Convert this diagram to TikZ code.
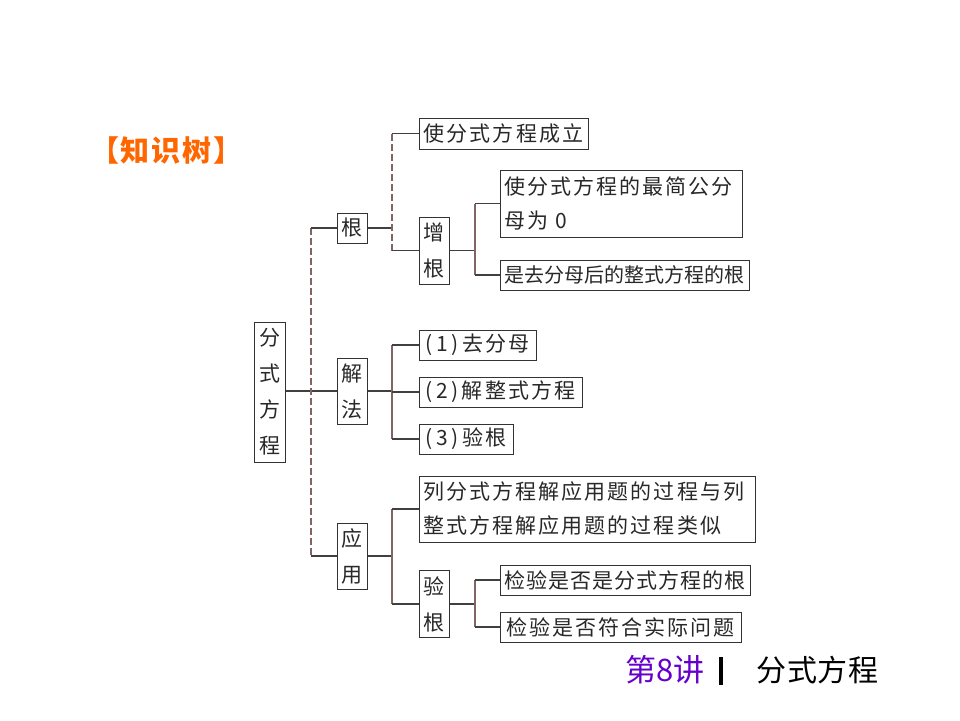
\documentclass[tikz,border=0pt]{standalone}
\usepackage{fontspec}
\setmainfont{Noto Sans CJK SC}
\newfontfamily\cjk{Noto Sans CJK SC}
\newfontfamily\cjksp[LetterSpace=10]{Noto Sans CJK SC}
\newfontfamily\cjkm[LetterSpace=5]{Noto Sans CJK SC}
\newfontfamily\cjkf[LetterSpace=3]{Noto Sans CJK SC}
\newfontfamily\cjkt[LetterSpace=6]{Noto Sans CJK SC}
\usetikzlibrary{calc}
\definecolor{linec}{RGB}{64,64,64}
\definecolor{busc}{RGB}{130,100,100}
\definecolor{txt}{RGB}{40,40,40}
\definecolor{orng}{RGB}{255,102,0}
\definecolor{purp}{RGB}{102,0,204}
\tikzset{
 box/.style={draw=black!80, line width=1pt, inner sep=0pt, fill=white, text=txt, font=\cjksp\fontsize{21}{34}\selectfont},
 vbox/.style={box, align=center, font=\cjk\fontsize{21}{36}\selectfont},
 conn/.style={draw=linec, line width=1.2pt},
 bus/.style={draw=busc, line width=1.1pt},
 dbus/.style={bus, dash pattern=on 7pt off 3pt},
}
\begin{document}
\begin{tikzpicture}[x=1pt,y=1pt]
\useasboundingbox (0,0) rectangle (960,-720);
\node[font=\cjkt\bfseries\fontsize{29}{32}\selectfont, text=orng, anchor=west, inner sep=0] (title) at (90,-150) {【知识树】};

\node[vbox, minimum width=31pt, minimum height=140pt] (fs) at (269.5,-392) {分\\式\\方\\程};
\node[vbox, minimum width=30pt, minimum height=30pt] (gen) at (352,-228) {根};
\node[vbox, minimum width=30pt, minimum height=66pt] (jf) at (352,-391) {解\\法};
\node[vbox, minimum width=30pt, minimum height=66pt] (yy) at (352,-556) {应\\用};

\node[box, minimum width=169pt, minimum height=31pt] (a1) at (503.5,-133.5) {使分式方程成立};
\node[vbox, minimum width=30pt, minimum height=67pt] (zg) at (434,-250.5) {增\\根};
\node[box, minimum width=242pt, minimum height=67pt, text width=234pt, align=left] (a21) at (621,-203.5) {使分式方程的最简公分\\母为 0};
\node[box, font=\cjk\fontsize{20}{24}\selectfont, minimum width=249pt, minimum height=30pt] (a22) at (624.5,-275) {是去分母后的整式方程的根};

\node[box, minimum width=117pt, minimum height=30pt] (b1) at (477.5,-345) {(\,1\,)\,去分母};
\node[box, minimum width=163pt, minimum height=30pt] (b2) at (500.5,-392) {(\,2\,)\,解整式方程};
\node[box, minimum width=94pt, minimum height=30pt] (b3) at (466,-439) {(\,3\,)\,验根};

\node[box, minimum width=336pt, minimum height=66pt, text width=328pt, align=left] (c1) at (587,-509) {列分式方程解应用题的过程与列\\整式方程解应用题的过程类似};
\node[vbox, minimum width=30pt, minimum height=67pt] (yg) at (434,-604) {验\\根};
\node[box, font=\cjkm\fontsize{21}{24}\selectfont, minimum width=250pt, minimum height=30pt] (c21) at (625,-580) {检验是否是分式方程的根};
\node[box, minimum width=241pt, minimum height=30pt] (c22) at (620.5,-627) {检验是否符合实际问题};

\coordinate (x1) at (311,0);
\coordinate (x2) at (392,0);
\coordinate (x3) at (475,0);

% level 1
\draw[conn] (fs.east |- jf.west) -- (jf.west);
\draw[dbus] (x1 |- gen.west) -- (x1 |- yy.west);
\draw[conn] (x1 |- gen.west) -- (gen.west);
\draw[conn] (x1 |- yy.west) -- (yy.west);

% gen
\draw[conn] (gen.east) -- (x2 |- gen.east);
\draw[dbus] (x2 |- a1.west) -- (x2 |- zg.west);
\draw[conn] (x2 |- a1.west) -- (a1.west);
\draw[conn] (x2 |- zg.west) -- (zg.west);
\draw[conn] (zg.east) -- (x3 |- zg.east);
\draw[bus] (x3 |- a21.west) -- (x3 |- a22.west);
\draw[conn] (x3 |- a21.west) -- (a21.west);
\draw[conn] (x3 |- a22.west) -- (a22.west);

% jiefa
\draw[conn] (jf.east) -- (x2 |- jf.east);
\draw[bus] (x2 |- b1.west) -- (x2 |- b3.west);
\draw[conn] (x2 |- b1.west) -- (b1.west);
\draw[conn] (x2 |- b2.west) -- (b2.west);
\draw[conn] (x2 |- b3.west) -- (b3.west);

% yingyong
\draw[conn] (yy.east) -- (x2 |- yy.east);
\draw[bus] (x2 |- c1.west) -- (x2 |- yg.west);
\draw[conn] (x2 |- c1.west) -- (c1.west);
\draw[conn] (x2 |- yg.west) -- (yg.west);
\draw[conn] (yg.east) -- (x3 |- yg.east);
\draw[bus] (x3 |- c21.west) -- (x3 |- c22.west);
\draw[conn] (x3 |- c21.west) -- (c21.west);
\draw[conn] (x3 |- c22.west) -- (c22.west);

% footer
\node[font=\cjk\fontsize{31}{33}\selectfont, text=purp, anchor=west, inner sep=0] (ft1) at (625,-670) {第8讲};
\node[fill=black, minimum width=4pt, minimum height=28pt, inner sep=0] (bar) at (721,-671) {};
\node[font=\cjkf\fontsize{30}{32}\selectfont, text=black, anchor=west, inner sep=0] (ft2) at (756,-670) {分式方程};
\end{tikzpicture}
\end{document}
